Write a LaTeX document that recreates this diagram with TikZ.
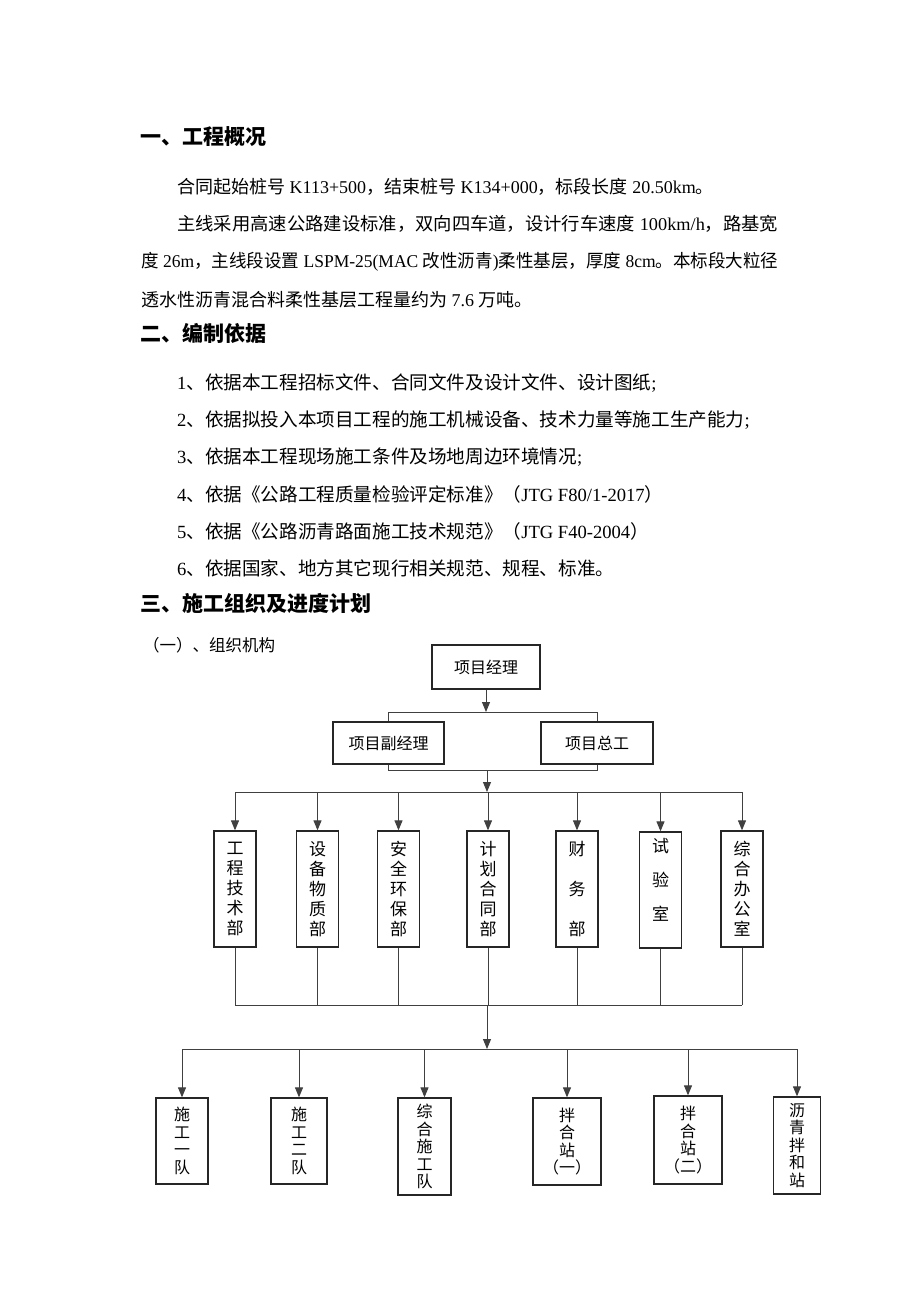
\documentclass[tikz,border=0pt]{standalone}
\usepackage{fontspec}
\usepackage{graphicx}
\setmainfont{Liberation Serif}
\newfontfamily\cjk{Noto Sans CJK SC}
\usetikzlibrary{arrows.meta}
\newcommand\enx[1]{{\rmfamily #1}}
\begin{document}
\begin{tikzpicture}[x=1pt,y=-1pt,
  txt/.style={anchor=west, inner sep=0pt, font=\cjk\fontsize{18}{18}\selectfont},
  itm/.style={anchor=west, inner sep=0pt, font=\cjk\fontsize{18.6}{18.6}\selectfont},
  subt/.style={anchor=west, inner sep=0pt, font=\cjk\fontsize{16.5}{17}\selectfont},
  head/.style={anchor=west, inner sep=0pt, font=\cjk\bfseries\fontsize{21}{21}\selectfont},
  box/.style={draw=black!85, line width=1.3pt, inner sep=0pt, align=center},
  hbox/.style={box, minimum height=42pt, font=\cjk\fontsize{16}{17}\selectfont},
  dbox/.style={box, minimum width=42pt, minimum height=116pt, font=\cjk\fontsize{17}{20}\selectfont},
  tbox/.style={box, font=\cjk\fontsize{16}{17.5}\selectfont},
  ln/.style={draw=black!75, line width=1pt},
  arr/.style={ln, -{Triangle[length=10pt,width=8pt]}}
]
\useasboundingbox[fill=white] (0,0) rectangle (920,1302);

% ---- section 1
\node[head] (h1) at (140,137) {一、工程概况};
\node[txt] (p1) at (177,187) {合同起始桩号\enx{ K113+500}，结束桩号\enx{ K134+000}，标段长度\enx{ 20.50km}。};
\node[txt] (p2) at (177,224) {\resizebox{601pt}{\height}{主线采用高速公路建设标准，双向四车道，设计行车速度\enx{ 100km/h}，路基宽}};
\node[txt] (p3) at (141,262) {\resizebox{637pt}{\height}{度\enx{ 26m}，主线段设置\enx{ LSPM-25(MAC }改性沥青\enx{)}柔性基层，厚度\enx{ 8cm}。本标段大粒径}};
\node[txt] (p4) at (141,300) {透水性沥青混合料柔性基层工程量约为\enx{ 7.6 }万吨。};

% ---- section 2
\node[head] (h2) at (140,333) {二、编制依据};
\node[itm] (i1) at (177,383) {\enx{1}、依据本工程招标文件、合同文件及设计文件、设计图纸\enx{;}};
\node[itm] (i2) at (177,420) {\enx{2}、依据拟投入本项目工程的施工机械设备、技术力量等施工生产能力\enx{;}};
\node[itm] (i3) at (177,457) {\enx{3}、依据本工程现场施工条件及场地周边环境情况\enx{;}};
\node[itm] (i4) at (177,494) {\enx{4}、依据《公路工程质量检验评定标准》（\enx{JTG F80/1-2017}）};
\node[itm] (i5) at (177,531) {\enx{5}、依据《公路沥青路面施工技术规范》（\enx{JTG F40-2004}）};
\node[itm] (i6) at (177,568) {\enx{6}、依据国家、地方其它现行相关规范、规程、标准。};

% ---- section 3
\node[head] (h3) at (140,603) {三、施工组织及进度计划};
\node[subt] (s1) at (143,645) {（一）、组织机构};

% ---- chart: top
\node[hbox, minimum width=108pt, minimum height=44pt] (pm) at (486,667) {项目经理};
\node[hbox, minimum width=111pt] (dpm) at (388.5,743) {项目副经理};
\node[hbox, minimum width=112pt] (ce) at (597,743) {项目总工};

\coordinate (j1) at (486,712);
\coordinate (j2) at (487,770);
\coordinate (j3) at (487,792);
\draw[arr] (pm.south) -- (j1);
\draw[ln] (dpm.north) |- (j1) -| (ce.north);
\draw[ln] (dpm.south) |- (j2) -| (ce.south);
\draw[arr] (j2) -- (j3);

% ---- departments
\node[dbox] (d1) at (235,889) {工\\程\\技\\术\\部};
\node[dbox] (d2) at (317.5,889) {设\\备\\物\\质\\部};
\node[dbox] (d3) at (398.5,889) {安\\全\\环\\保\\部};
\node[dbox] (d4) at (488,889) {计\\划\\合\\同\\部};
\node[dbox] (d5) at (577,889) {财\\[20pt]务\\[20pt]部};
\node[dbox] (d6) at (660.5,890) {试\\[14pt]验\\[14pt]室\\[2pt]\mbox{}};
\node[dbox] (d7) at (742,889) {综\\合\\办\\公\\室};

\draw[ln] (j3 -| d1.north) -- (j3 -| d7.north);
\foreach \d in {d1,d2,d3,d4,d5,d6,d7}{
  \draw[arr] (j3 -| \d.north) -- (\d.north);
}

\coordinate (j4) at (487,1005);
\coordinate (j5) at (487,1049);
\foreach \d in {d1,d2,d3,d4,d5,d6,d7}{
  \draw[ln] (\d.south) -- (\d.south |- j4);
}
\draw[ln] (j4 -| d1.south) -- (j4 -| d7.south);
\draw[arr] (j4) -- (j5);

% ---- teams
\node[tbox, minimum width=52pt, minimum height=86pt] (t1) at (182,1141) {施\\工\\一\\队};
\node[tbox, minimum width=56pt, minimum height=86pt] (t2) at (299,1141) {施\\工\\二\\队};
\node[tbox, minimum width=53pt, minimum height=97pt] (t3) at (424.5,1146.5) {综\\合\\施\\工\\队};
\node[tbox, minimum width=68pt, minimum height=87pt] (t4) at (567,1141.5) {拌\\合\\站\\（一）};
\node[tbox, minimum width=68pt, minimum height=88pt] (t5) at (688,1140) {拌\\合\\站\\（二）};
\node[tbox, minimum width=47pt, minimum height=97pt] (t6) at (797,1145.5) {沥\\青\\拌\\和\\站};

\draw[ln] (j5 -| t1.north) -- (j5 -| t6.north);
\foreach \t in {t1,t2,t3,t4,t5,t6}{
  \draw[arr] (j5 -| \t.north) -- (\t.north);
}
\end{tikzpicture}
\end{document}
